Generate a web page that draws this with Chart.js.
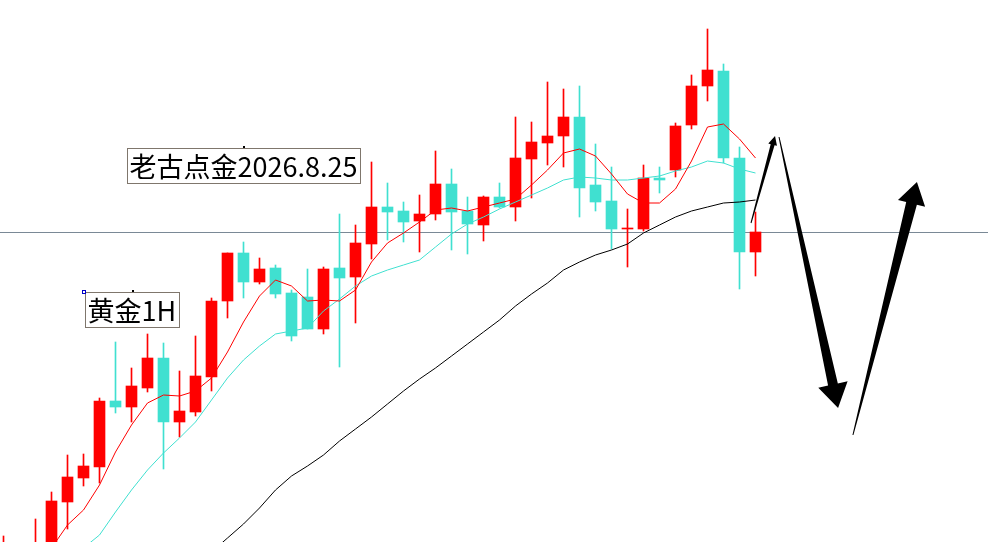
<!DOCTYPE html>
<html>
<head>
<meta charset="utf-8">
<title>黄金1H</title>
<script src="https://cdn.jsdelivr.net/npm/chart.js@4/dist/chart.umd.min.js"></script>
<style>
  html, body { margin: 0; padding: 0; background: #ffffff; overflow: hidden; }
  #wrap { width: 988px; height: 542px; position: relative; }
</style>
</head>
<body>
<div id="wrap"><canvas id="goldChart"></canvas></div>
<script>
/* --------------- Candles (one per hour) -------------------------------------------- */
const opens = [3220, 3210, 3212.5, 3226, 3249, 3261, 3266.5, 3299.5, 3296.5, 3306, 3321, 3289, 3294, 3311.5, 3349.5, 3373.5, 3359, 3366, 3353.5, 3351.5, 3335.5, 3366, 3361.5, 3378, 3396.5, 3394.5, 3389.5, 3393, 3408, 3394.5, 3387.5, 3401.5, 3396.5, 3420.5, 3428.5, 3432, 3441.5, 3407.5, 3399.5, 3385.5, 3385.5, 3411, 3415, 3437.5, 3457, 3464.5, 3421, 3374];
const highs = [3232, 3227, 3240.5, 3254, 3272.5, 3273, 3301, 3329, 3316, 3333, 3328.5, 3314.5, 3332, 3351, 3373.5, 3379, 3371, 3367.5, 3355, 3365.5, 3366.5, 3393, 3387.5, 3419, 3408.5, 3399, 3402.5, 3424.5, 3415.5, 3401.5, 3402, 3408.5, 3441.5, 3439, 3459, 3455.5, 3457, 3428, 3416.5, 3395.5, 3417.5, 3416.5, 3438.5, 3462.5, 3485.5, 3468, 3426.5, 3394];
const lows = [3215, 3207.5, 3210, 3224, 3235.5, 3257, 3258.5, 3293.5, 3289, 3304, 3265.5, 3281.5, 3292, 3304.5, 3341, 3351, 3358, 3351, 3329.5, 3335.5, 3333, 3316.5, 3338.5, 3370.5, 3380, 3379, 3374, 3390, 3375, 3373, 3379.5, 3396, 3389.5, 3401, 3417.5, 3416.5, 3391.5, 3394.5, 3375.5, 3366.5, 3384.5, 3403.5, 3411.5, 3435.5, 3449.5, 3418.5, 3355.5, 3362];
const closes = [3226, 3224, 3227.5, 3249.5, 3261.5, 3267, 3299.5, 3296.5, 3307, 3321, 3289, 3294.5, 3312, 3349.5, 3373.5, 3359, 3365.5, 3353, 3332, 3335.5, 3365.5, 3361, 3378.5, 3396.5, 3394, 3389, 3393, 3408, 3394, 3388, 3401.5, 3396.5, 3421, 3429, 3432, 3441.5, 3406, 3399, 3385.5, 3386, 3411, 3410, 3437, 3457, 3465, 3421, 3374, 3384];

/* --------------- Moving averages ---------------------------------------------- */
const maFast = [null, null, null, 3226, 3237.5, 3245, 3257.5, 3274, 3287.5, 3298.5, 3302.5, 3302, 3304.5, 3311, 3324, 3339, 3352, 3360, 3357, 3349.5, 3350, 3349.5, 3355, 3369, 3378.5, 3383.5, 3389, 3395, 3396, 3394.5, 3396.5, 3398.5, 3400.5, 3407.5, 3415, 3423.5, 3425.5, 3422, 3413, 3403, 3398.5, 3398.5, 3405.5, 3419.5, 3436.5, 3438, 3430.5, 3421];
const maMid = [null, null, null, null, null, 3226, 3232.5, 3244, 3255, 3265, 3273.5, 3281, 3289, 3300, 3311, 3320, 3327, 3333, 3334.5, 3336, 3344.5, 3350.5, 3357, 3362, 3365, 3367.5, 3370, 3376.5, 3383, 3388, 3391.5, 3395.5, 3399, 3402.5, 3406, 3410, 3411.5, 3411, 3410, 3410, 3411, 3412, 3414.5, 3416.5, 3419.5, 3418.5, 3415.5, 3413.5];
const maSlow = [null, null, null, null, null, null, null, null, null, null, null, null, null, 3224, 3231, 3238, 3246, 3255, 3262, 3267, 3272.5, 3279.5, 3285.5, 3291.5, 3298, 3304.5, 3310.5, 3316, 3322, 3328, 3334, 3340, 3347, 3353, 3358.5, 3365, 3369, 3372.5, 3375, 3378, 3383.5, 3387.5, 3391.5, 3394.5, 3396.5, 3398.5, 3399, 3400];

/* --------------- Drawn objects: level line, arrows, text labels --------------------- */
const levelPrice = 3384;
const arrowTails = [[46.72, 3388.5], [48.47, 3431.5], [53.09, 3282.5]];
const arrowTips = [[48.22, 3432], [52.16, 3296], [57.09, 3409]];
const labelTexts = ["老古点金2026.8.25", "黄金1H"];
const labelAnchors = [[7.72, 3426], [5.09, 3354]];

/* --------------- Colors --------------------- */
const UP = "#FF0000";
const DOWN = "#40E0D0";
const candleColor = (ctx) => (closes[ctx.dataIndex] >= opens[ctx.dataIndex] ? UP : DOWN);

const bodies = opens.map((o, i) => ({ x: i, y: [o, closes[i]] }));
const wicks = lows.map((l, i) => ({ x: i, y: [l, highs[i]] }));
const toPoints = (arr) => arr.map((v, i) => ({ x: i, y: v })).filter((p) => p.y !== null);

/* --------------- Plugin: horizontal level, behind the candles --------------------- */
const levelLine = {
  id: "levelLine",
  beforeDatasetsDraw(chart) {
    const { ctx, chartArea, scales } = chart;
    const y = Math.round(scales.y.getPixelForValue(levelPrice)) + 0.5;
    ctx.save();
    ctx.strokeStyle = "#7A8996";
    ctx.lineWidth = 1;
    ctx.beginPath();
    ctx.moveTo(chartArea.left, y);
    ctx.lineTo(chartArea.right, y);
    ctx.stroke();
    ctx.restore();
  },
};

/* --------------- Plugin: tapered arrows and text boxes --------------------- */
// widths in px: tail, shaft at head, head, head length
const arrowShapes = [
  [1, 4, 9, 9],
  [1, 10, 30, 24],
  [1, 11, 28, 22],
];

const drawArrow = (ctx, x0, y0, x1, y1, shape) => {
  const [tailW, shaftW, headW, headL] = shape;
  const len = Math.hypot(x1 - x0, y1 - y0);
  const ux = (x1 - x0) / len;
  const uy = (y1 - y0) / len;
  const nx = -uy;
  const ny = ux;
  const bx = x1 - ux * headL;
  const by = y1 - uy * headL;
  ctx.beginPath();
  ctx.moveTo(x0 + (nx * tailW) / 2, y0 + (ny * tailW) / 2);
  ctx.lineTo(bx + (nx * shaftW) / 2, by + (ny * shaftW) / 2);
  ctx.lineTo(bx + (nx * headW) / 2, by + (ny * headW) / 2);
  ctx.lineTo(x1, y1);
  ctx.lineTo(bx - (nx * headW) / 2, by - (ny * headW) / 2);
  ctx.lineTo(bx - (nx * shaftW) / 2, by - (ny * shaftW) / 2);
  ctx.lineTo(x0 - (nx * tailW) / 2, y0 - (ny * tailW) / 2);
  ctx.closePath();
  ctx.fill();
};

const drawings = {
  id: "drawings",
  afterDatasetsDraw(chart) {
    const { ctx, scales } = chart;
    const px = (p) => [scales.x.getPixelForValue(p[0]), scales.y.getPixelForValue(p[1])];
    ctx.save();

    ctx.fillStyle = "#000000";
    arrowTails.forEach((tail, k) => {
      const [x0, y0] = px(tail);
      const [x1, y1] = px(arrowTips[k]);
      drawArrow(ctx, x0, y0, x1, y1, arrowShapes[k]);
    });

    ctx.font = '27px "Noto Sans CJK SC", "Noto Sans", sans-serif';
    ctx.textBaseline = "middle";
    labelTexts.forEach((txt, k) => {
      let [x, y] = px(labelAnchors[k]);
      x = Math.round(x) + 0.5;
      y = Math.round(y) + 0.5;
      const w = Math.round(ctx.measureText(txt).width) + 5;
      const h = 35;
      ctx.fillStyle = "#FFFFFF";
      ctx.fillRect(x, y, w, h);
      ctx.strokeStyle = "#7F766C";
      ctx.lineWidth = 1;
      ctx.strokeRect(x, y, w, h);
      ctx.fillStyle = "#000000";
      ctx.fillText(txt, x + 2, y + h / 2 + 1);
      // anchor dot on the top edge
      ctx.fillRect(Math.round(x + w / 2) - 1, y - 2.5, 2, 2);
      if (k === 1) {
        ctx.strokeStyle = "#0000C8";
        ctx.strokeRect(x - 3, y - 2, 3, 3);
      }
    });
    ctx.restore();
  },
};

/* --------------- Chart --------------------- */
const goldChart = new Chart(document.getElementById("goldChart"), {
  type: "bar",
  plugins: [levelLine, drawings],
  data: {
    datasets: [
      {
        label: "wick",
        data: wicks,
        backgroundColor: candleColor,
        borderWidth: 0,
        barThickness: 1,
        grouped: false,
        order: 5,
      },
      {
        label: "body",
        data: bodies,
        backgroundColor: candleColor,
        borderWidth: 0,
        barThickness: 11,
        grouped: false,
        order: 4,
      },
      {
        type: "line",
        label: "MA fast",
        data: toPoints(maFast),
        borderColor: UP,
        borderWidth: 1,
        pointRadius: 0,
        tension: 0,
        order: 2,
      },
      {
        type: "line",
        label: "MA mid",
        data: toPoints(maMid),
        borderColor: DOWN,
        borderWidth: 1,
        pointRadius: 0,
        tension: 0,
        order: 3,
      },
      {
        type: "line",
        label: "MA slow",
        data: toPoints(maSlow),
        borderColor: "#000000",
        borderWidth: 1,
        pointRadius: 0,
        tension: 0,
        order: 1,
      },
    ],
  },
  options: {
    responsive: true,
    maintainAspectRatio: false,
    animation: false,
    events: [],
    layout: { padding: 0 },
    plugins: {
      legend: { display: false },
      tooltip: { enabled: false },
    },
    scales: {
      x: { type: "linear", min: -0.21875, max: 61.53125, offset: false, display: false },
      y: { type: "linear", min: 3229, max: 3500, beginAtZero: false, display: false },
    },
  },
});
</script>
</body>
</html>
